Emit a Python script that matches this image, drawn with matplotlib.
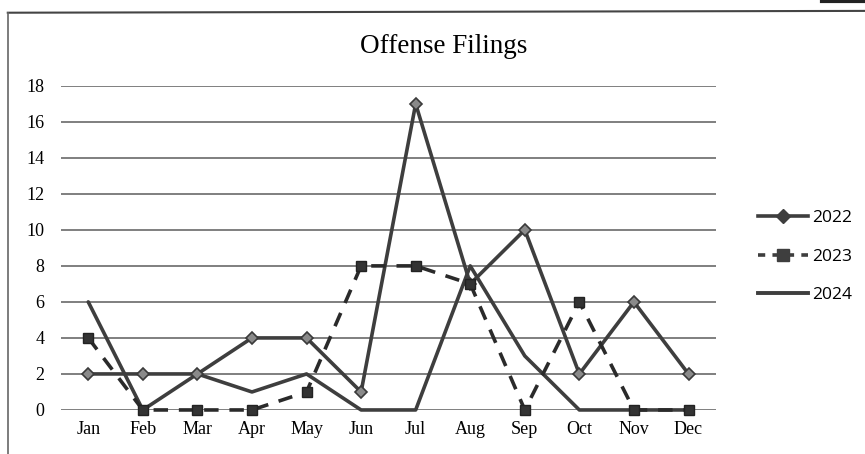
import matplotlib
matplotlib.use("Agg")
import matplotlib.pyplot as plt
from matplotlib.lines import Line2D

months = ["Jan", "Feb", "Mar", "Apr", "May", "Jun", "Jul", "Aug", "Sep", "Oct", "Nov", "Dec"]
y2022 = [2, 2, 2, 4, 4, 1, 17, 7, 10, 2, 6, 2]
y2023 = [4, 0, 0, 0, 1, 8, 8, 7, 0, 6, 0, 0]
y2024 = [6, 0, 2, 1, 2, 0, 0, 8, 3, 0, 0, 0]
yticks = [0, 2, 4, 6, 8, 10, 12, 14, 16, 18]

serif = "Liberation Serif"
fig = plt.figure(figsize=(8.65, 4.54), dpi=100)
ax = fig.add_axes([0.0705, 0.097, 0.757, 0.714])

x = list(range(len(months)))
lc = "#3e3e3e"
ax.plot(x, y2024, color=lc, lw=2.6, solid_capstyle="round", zorder=3, label="2024",
        clip_on=False)
ax.plot(x, y2022, color=lc, lw=2.6, marker="D", ms=6, mfc="#8a8a8a", mec="#3a3a3a",
        mew=1.2, zorder=4, label="2022", clip_on=False)
ax.plot(x, y2023, color="#2a2a2a", lw=2.6, ls=(0, (4, 3)), marker="s", ms=7.5,
        mfc="#333333", mec="#222222", zorder=5, label="2023", clip_on=False)

ax.set_xlim(-0.5, 11.5)
ax.set_ylim(0, 18)
ax.set_yticks(yticks)
ax.set_xticks(x)
ax.set_xticklabels(months, family=serif, fontsize=13)
ax.set_yticklabels([str(v) for v in yticks], family=serif, fontsize=13)
ax.tick_params(length=0, pad=12)
ax.tick_params(axis="x", pad=8)
ax.grid(axis="y", color="#6a6a6a", lw=1.2)
ax.set_axisbelow(True)
for s in ax.spines.values():
    s.set_visible(False)

fig.text(0.513, 0.897, "Offense Filings", family=serif, fontsize=19.5, ha="center", va="center")

handles = [
    Line2D([], [], color=lc, lw=2.6, marker="D", ms=7, mfc="#3e3e3e", mec="#3e3e3e"),
    Line2D([], [], color="#3e3e3e", lw=2.6, ls=(0, (2, 2)), marker="s", ms=8, mfc="#3e3e3e", mec="#3e3e3e"),
    Line2D([], [], color=lc, lw=2.8),
]
fig.legend(handles, ["2022", "2023", "2024"], loc="center left", bbox_to_anchor=(0.858, 0.435),
           frameon=False, prop={"family": "Open Sans", "size": 12.5}, handlelength=2.9,
           handletextpad=0.25, labelspacing=1.3)

# chart frame lines (scan border)
fig.add_artist(Line2D([0.009, 1.0], [0.972, 0.976], transform=fig.transFigure, color="#444444", lw=1.5))
fig.add_artist(Line2D([0.009, 0.009], [0.0, 0.972], transform=fig.transFigure, color="#666666", lw=1.2))
fig.add_artist(Line2D([0.95, 1.0], [0.997, 0.997], transform=fig.transFigure, color="#222222", lw=3))

fig.savefig("out.png", dpi=100)
